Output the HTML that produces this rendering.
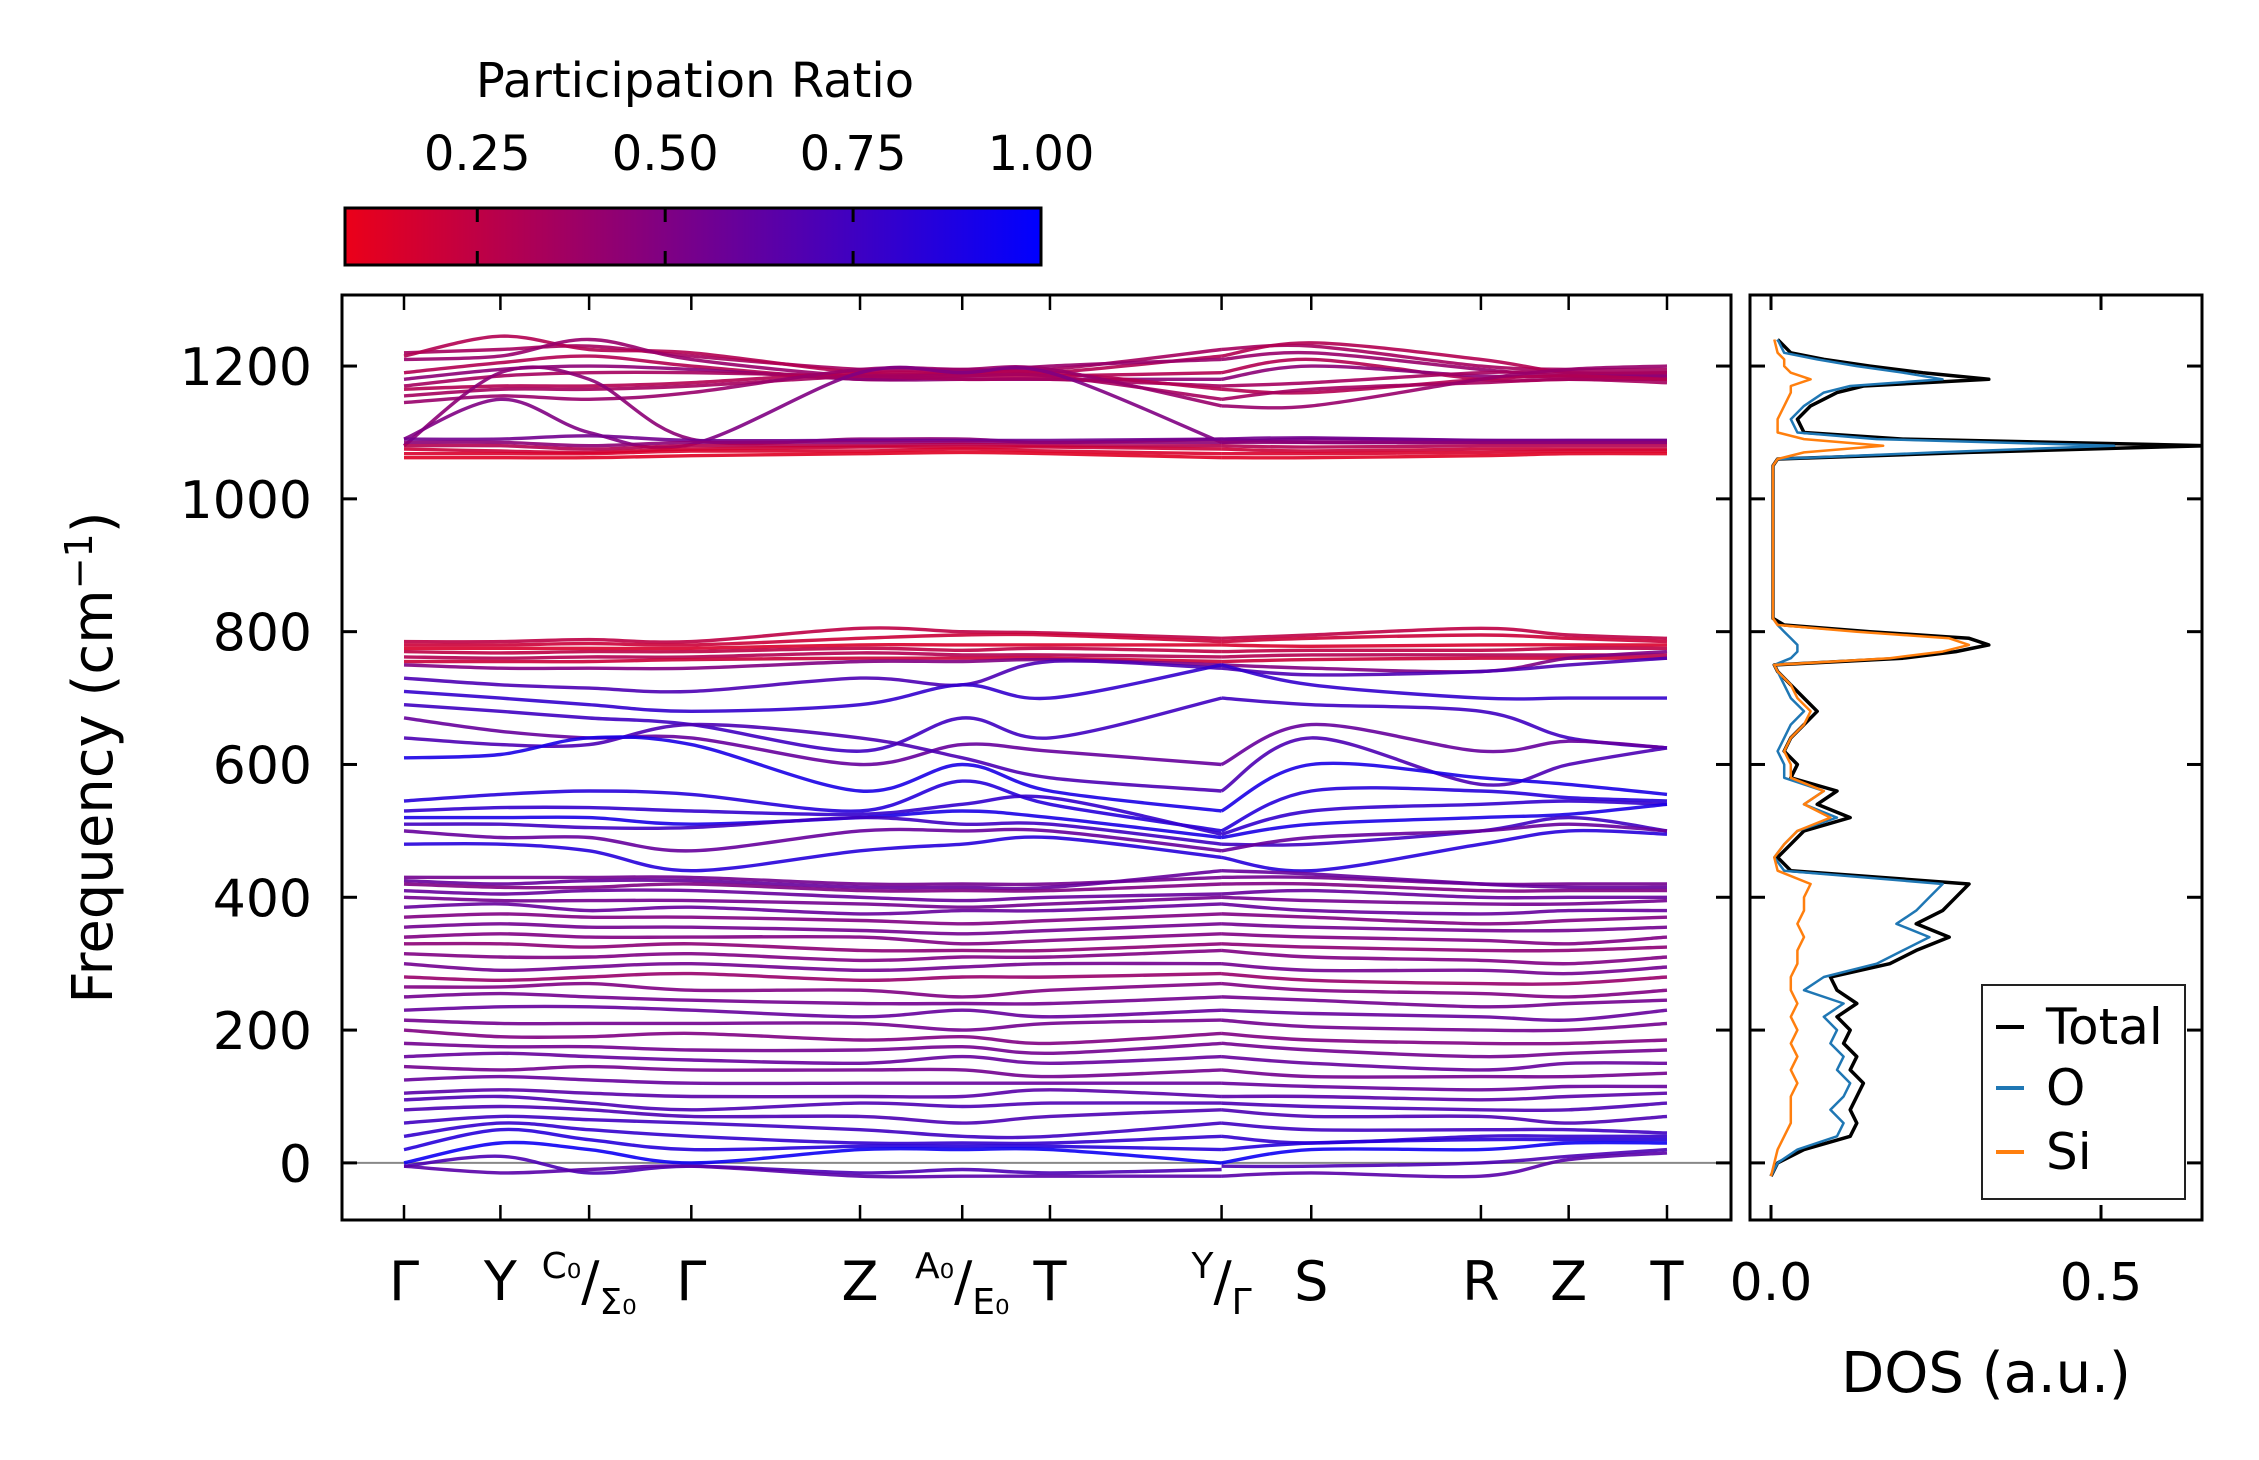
<!DOCTYPE html>
<html><head><meta charset="utf-8"><style>
html,body{margin:0;padding:0;background:#fff;}
svg text{font-family:"DejaVu Sans","Liberation Sans",sans-serif;fill:#000;}
</style></head><body>
<svg id="chart" width="2259" height="1455" viewBox="0 0 2259 1455" xmlns="http://www.w3.org/2000/svg">
<defs>
<linearGradient id="cmap" x1="0" x2="1" y1="0" y2="0">
<stop offset="0" stop-color="rgb(235,0,25)"/>
<stop offset="0.5" stop-color="rgb(118,0,140)"/>
<stop offset="1" stop-color="rgb(0,0,255)"/>
</linearGradient>
<clipPath id="mainClip"><rect x="342" y="295" width="1389" height="925"/></clipPath>
<clipPath id="dosClip"><rect x="1750" y="295" width="452" height="925"/></clipPath>
</defs>
<g id="colorbar"></g>
<g id="main"></g>
<g id="dos"></g>
</svg>
<script>
const kLabels = ["Γ","Y","C0/Σ0","Γ","Z","A0/E0","T","Y/Γ","S","R","Z","T"];
const kPos = [0,1,1.92,2.98,4.73,5.79,6.7,8.48,9.41,11.17,12.08,13.1];
const freqTicks = [0,200,400,600,800,1000,1200];
const cbarTicks = [0.25,0.5,0.75,1.0];
const dosTicks = [0.0,0.5];
const bands = [
[1220,1225,1230,1215,1195,1195,1195,1225, 1225,1230,1200,1195,1195],
[1215,1245,1225,1220,1190,1190,1190,1215, 1215,1235,1210,1190,1190],
[1210,1215,1240,1210,1185,1190,1200,1210, 1210,1220,1195,1185,1185],
[1190,1205,1215,1200,1180,1185,1185,1190, 1190,1210,1180,1180,1180],
[1180,1195,1200,1195,1180,1180,1180,1180, 1180,1200,1185,1185,1185],
[1170,1185,1190,1190,1185,1180,1180,1170, 1170,1175,1190,1190,1190],
[1165,1170,1170,1175,1190,1190,1190,1165, 1165,1160,1180,1185,1180],
[1155,1165,1165,1170,1185,1185,1185,1150, 1150,1165,1175,1180,1175],
[1145,1155,1150,1160,1195,1195,1195,1140, 1140,1140,1180,1195,1200],
[1080,1190,1180,1090,1090,1090,1085,1090, 1090,1085,1085,1085,1085],
[1090,1150,1100,1082,1190,1190,1190,1085, 1085,1090,1088,1088,1088],
[1090,1090,1095,1088,1088,1088,1088,1090, 1090,1092,1088,1088,1088],
[1085,1085,1080,1085,1085,1085,1085,1085, 1085,1085,1085,1085,1085],
[1080,1080,1075,1080,1080,1082,1080,1080, 1080,1078,1080,1080,1080],
[1075,1072,1070,1075,1078,1078,1078,1075, 1075,1072,1075,1075,1075],
[1068,1068,1068,1072,1072,1075,1072,1068, 1068,1068,1070,1072,1072],
[1062,1062,1062,1065,1068,1070,1068,1062, 1062,1062,1065,1068,1068],
[785,785,788,785,805,800,798,790, 790,795,805,795,790],
[780,780,782,780,790,795,795,785, 785,790,795,790,785],
[775,775,775,775,780,780,780,780, 780,778,780,780,780],
[770,768,770,770,775,772,775,770, 770,772,772,775,775],
[762,760,762,762,768,765,765,762, 762,765,765,765,765],
[755,755,755,758,760,760,760,755, 755,758,760,760,760],
[750,745,745,745,755,755,758,750, 750,745,740,760,770],
[730,720,715,710,730,720,755,745, 745,735,740,750,760],
[710,700,690,680,690,720,700,750, 750,720,700,700,700],
[690,680,670,660,620,670,640,700, 700,690,680,640,625],
[670,650,640,640,600,630,620,600, 600,660,620,635,625],
[640,630,630,660,640,610,580,560, 560,640,570,600,625],
[610,615,640,630,560,600,560,530, 530,600,580,570,555],
[545,555,560,555,530,575,540,500, 500,560,560,550,545],
[530,535,535,530,525,540,550,495, 495,530,540,545,540],
[520,520,520,510,520,530,520,490, 490,510,520,525,540],
[510,510,505,505,520,510,510,480, 480,480,500,520,500],
[500,490,490,470,500,500,500,470, 470,490,500,510,500],
[480,480,470,440,470,480,490,460, 460,440,480,500,495],
[430,430,430,430,420,420,420,430, 430,430,420,420,420],
[425,420,425,425,415,415,415,440, 440,435,420,415,415],
[420,415,415,420,410,410,410,420, 420,420,410,410,410],
[410,405,410,410,400,395,400,405, 405,410,400,400,400],
[400,395,395,395,390,385,390,400, 400,395,390,390,395],
[385,390,380,385,375,380,380,390, 390,380,375,380,380],
[370,375,370,370,365,360,365,375, 375,370,360,365,370],
[355,360,355,355,350,345,350,360, 360,355,350,350,355],
[340,345,340,340,340,330,335,345, 345,340,335,330,340],
[330,330,325,330,320,320,320,330, 330,325,320,320,325],
[315,310,310,315,305,310,310,320, 320,310,305,300,310],
[300,290,295,300,290,295,300,300, 300,290,290,285,295],
[280,275,280,285,275,280,280,285, 285,275,270,270,280],
[265,265,270,260,260,250,260,270, 270,260,255,250,260],
[250,255,250,245,240,240,240,250, 250,245,235,240,245],
[230,235,235,230,220,230,220,230, 230,225,220,215,230],
[215,210,210,210,210,200,210,215, 215,205,200,200,210],
[200,190,190,195,185,190,180,195, 195,185,180,180,185],
[180,175,175,170,170,175,165,180, 180,170,160,165,170],
[160,165,160,155,150,160,150,160, 160,150,140,150,150],
[145,140,145,140,140,140,130,140, 140,130,130,130,135],
[125,130,125,120,120,120,120,120, 120,115,110,115,115],
[105,110,105,100,100,100,110,100, 100,100,95,100,105],
[95,100,90,80,90,85,90,90, 90,85,80,80,90],
[80,85,80,70,70,60,70,80, 80,70,70,60,70],
[60,70,65,60,50,40,40,60, 60,50,50,50,45],
[40,60,50,40,30,30,30,40, 40,30,40,40,40],
[20,50,35,20,25,25,25,20, 20,30,35,35,35],
[0,30,20,0,20,20,20,0, 0,20,20,30,30],
[-5,10,-15,-5,-15,-10,-15,-10, -5,-5,0,10,20],
[-5,-15,-10,-5,-20,-20,-20,-20, -20,-15,-20,5,15]
];
const bandPR = [.35,.3,.4,.3,.45,.35,.3,.35,.4,.45,.5,.55,.45,.3,.2,.15,.12,
.25,.2,.15,.25,.3,.2,
.5,.7,.8,.75,.6,.7,.9,.85,.8,.9,.75,.6,.85,
.55,.6,.5,.6,.55,.6,.5,.55,.5,.45,.5,.55,.4,.5,.55,.6,.55,.5,.55,.6,.55,.6,.65,.7,.7,.75,.8,.85,.95,.7,.65];
const dosFreq  = [-20,0,20,40,60,80,100,120,140,160,180,200,220,240,260,280,300,320,340,360,380,400,420,440,460,480,500,520,540,560,580,600,620,640,660,680,700,720,740,750,760,770,780,790,800,810,820,900,1000,1050,1060,1070,1080,1090,1100,1120,1140,1160,1170,1180,1190,1200,1210,1220,1240];
const dosTotal = [0,0.01,0.05,0.12,0.13,0.12,0.13,0.14,0.12,0.13,0.11,0.12,0.10,0.13,0.10,0.09,0.18,0.22,0.27,0.22,0.26,0.28,0.30,0.03,0.01,0.03,0.05,0.12,0.07,0.10,0.03,0.04,0.02,0.03,0.05,0.07,0.05,0.03,0.01,0.005,0.20,0.28,0.33,0.30,0.15,0.02,0.003,0.003,0.003,0.003,0.01,0.30,0.66,0.20,0.05,0.04,0.06,0.10,0.14,0.33,0.23,0.15,0.08,0.03,0.01];
const dosO     = [0,0.01,0.04,0.10,0.11,0.09,0.11,0.12,0.10,0.11,0.09,0.10,0.08,0.11,0.05,0.08,0.16,0.20,0.24,0.19,0.22,0.24,0.26,0.02,0.005,0.02,0.04,0.10,0.05,0.08,0.02,0.02,0.01,0.02,0.03,0.05,0.03,0.02,0.01,0.005,0.03,0.04,0.04,0.03,0.02,0.01,0.003,0.003,0.003,0.003,0.01,0.25,0.52,0.16,0.04,0.03,0.05,0.08,0.12,0.26,0.20,0.13,0.07,0.02,0.01];
const dosSi    = [0,0.005,0.01,0.02,0.03,0.03,0.03,0.04,0.03,0.04,0.03,0.04,0.03,0.04,0.03,0.03,0.04,0.04,0.05,0.04,0.05,0.05,0.06,0.01,0.005,0.02,0.04,0.09,0.05,0.08,0.03,0.03,0.02,0.03,0.05,0.06,0.04,0.03,0.01,0.005,0.18,0.26,0.30,0.27,0.13,0.01,0.003,0.003,0.003,0.003,0.01,0.05,0.17,0.05,0.01,0.01,0.02,0.03,0.03,0.06,0.03,0.02,0.02,0.01,0.005];

const NS="http://www.w3.org/2000/svg";
const M={x0:342,x1:1731,y0:295,y1:1220,kx0:404,kx1:1667};
const D={x0:1750,x1:2202};
const fmin=-86,fmax=1307;
const yS=f=>M.y1-(f-fmin)/(fmax-fmin)*(M.y1-M.y0);
const kMax=kPos[kPos.length-1];
const xS=k=>M.kx0+k/kMax*(M.kx1-M.kx0);
const dS=v=>1771+v/0.5*330;
const CB={x0:345,x1:1041,y0:208,y1:265,vmin:0.074,vmax:1};
const cbS=v=>CB.x0+(v-CB.vmin)/(CB.vmax-CB.vmin)*(CB.x1-CB.x0);
function mk(tag,attrs,parent){const e=document.createElementNS(NS,tag);for(const k in attrs)e.setAttribute(k,attrs[k]);parent.appendChild(e);return e;}
function col(p){const t=Math.max(0,Math.min(1,(p-CB.vmin)/(CB.vmax-CB.vmin)));return `rgb(${Math.round(235*(1-t))},0,${Math.round(25+230*t)})`;}
function smooth(pts){let d=`M${pts[0][0]},${pts[0][1]}`;for(let i=0;i<pts.length-1;i++){const p0=pts[Math.max(0,i-1)],p1=pts[i],p2=pts[i+1],p3=pts[Math.min(pts.length-1,i+2)];
const c1x=p1[0]+(p2[0]-p0[0])/6,c1y=p1[1]+(p2[1]-p0[1])/6,c2x=p2[0]-(p3[0]-p1[0])/6,c2y=p2[1]-(p3[1]-p1[1])/6;
d+=` C${c1x.toFixed(1)},${c1y.toFixed(1)} ${c2x.toFixed(1)},${c2y.toFixed(1)} ${p2[0].toFixed(1)},${p2[1].toFixed(1)}`;}return d;}

// colorbar
const cb=document.getElementById('colorbar');
const cbt=mk('text',{x:695,y:97,'font-size':48,'text-anchor':'middle'},cb);
cbt.textContent='Participation Ratio';


const cbr=mk('rect',{x:CB.x0,y:CB.y0,width:CB.x1-CB.x0,height:CB.y1-CB.y0,fill:'url(#cmap)',stroke:'#000','stroke-width':3},cb);


cbarTicks.forEach(v=>{
 const x=cbS(v);
 if(v<1){
  mk('line',{x1:x,x2:x,y1:CB.y0,y2:CB.y0+14,stroke:'#000','stroke-width':3},cb);
  mk('line',{x1:x,x2:x,y1:CB.y1-14,y2:CB.y1,stroke:'#000','stroke-width':3},cb);
 }
 const t=mk('text',{x:x,y:170,'font-size':48,'text-anchor':'middle'},cb);
 t.textContent=v.toFixed(2);
 
 
});

// main plot
const mg=document.getElementById('main');
const bg=mk('g',{'clip-path':'url(#mainClip)'},mg);
mk('line',{x1:M.x0,x2:M.x1,y1:yS(0),y2:yS(0),stroke:'#888','stroke-width':2},bg);
bands.forEach((b,i)=>{
 const left=b.slice(0,8).map((f,j)=>[xS(kPos[j]),yS(f)]);
 const right=b.slice(8).map((f,j)=>[xS(kPos[j+7]),yS(f)]);
 [left,right].forEach(pts=>{
  const p=mk('path',{d:smooth(pts),fill:'none',stroke:col(bandPR[i]),'stroke-width':3.4,'stroke-opacity':0.9},bg);
  
  
 });
});
const ax=mk('rect',{x:M.x0,y:M.y0,width:M.x1-M.x0,height:M.y1-M.y0,fill:'none',stroke:'#000','stroke-width':3},mg);


freqTicks.forEach(f=>{
 const y=yS(f);
 mk('line',{x1:M.x0,x2:M.x0+15,y1:y,y2:y,stroke:'#000','stroke-width':3},mg);
 mk('line',{x1:M.x1-15,x2:M.x1,y1:y,y2:y,stroke:'#000','stroke-width':3},mg);
 const t=mk('text',{x:M.x0-30,y:y+19,'font-size':52,'text-anchor':'end'},mg);
 t.textContent=f;
 
 
});
kPos.forEach((k,i)=>{
 const x=xS(k);
 mk('line',{x1:x,x2:x,y1:M.y0,y2:M.y0+15,stroke:'#000','stroke-width':2.5},mg);
 mk('line',{x1:x,x2:x,y1:M.y1-15,y2:M.y1,stroke:'#000','stroke-width':2.5},mg);
 const lab=kLabels[i];
 const t=mk('text',{x:x,y:1300,'font-size':54,'text-anchor':'middle'},mg);
 
 
 if(lab.includes('/')){
  const parts=lab.split('/');
  const t1=mk('tspan',{'font-size':36,dy:-22},t);t1.textContent=parts[0].replace('0','₀');
  const t2=mk('tspan',{'font-size':54,dy:22},t);t2.textContent='/';
  const t3=mk('tspan',{'font-size':36,dy:14},t);t3.textContent=parts[1].replace('0','₀');
 } else t.textContent=lab;
});
const yl=mk('text',{x:0,y:0,'font-size':56,'text-anchor':'middle',transform:`translate(112,${(M.y0+M.y1)/2}) rotate(-90)`},mg);


yl.appendChild(document.createTextNode('Frequency (cm'));
const ys=mk('tspan',{'font-size':38,dy:-20},yl);ys.textContent='−1';
const ye=mk('tspan',{'font-size':56,dy:20},yl);ye.textContent=')';

// DOS
const dg=document.getElementById('dos');
const dc=mk('g',{'clip-path':'url(#dosClip)'},dg);
[[dosTotal,'#000',3.5,'dos-total-line'],[dosO,'#1f77b4',2.5,'dos-o-line'],[dosSi,'#ff7f0e',2.5,'dos-si-line']].forEach(([arr,c,w,n])=>{
 const d=arr.map((v,i)=>(i?'L':'M')+dS(v).toFixed(1)+','+yS(dosFreq[i]).toFixed(1)).join(' ');
 const p=mk('path',{d:d,fill:'none',stroke:c,'stroke-width':w,'stroke-linejoin':'round'},dc);
 
 
});
const dax=mk('rect',{x:D.x0,y:M.y0,width:D.x1-D.x0,height:M.y1-M.y0,fill:'none',stroke:'#000','stroke-width':3},dg);


freqTicks.forEach(f=>{
 const y=yS(f);
 mk('line',{x1:D.x0,x2:D.x0+15,y1:y,y2:y,stroke:'#000','stroke-width':3},dg);
 mk('line',{x1:D.x1-15,x2:D.x1,y1:y,y2:y,stroke:'#000','stroke-width':3},dg);
});
dosTicks.forEach(v=>{
 const x=dS(v);
 mk('line',{x1:x,x2:x,y1:M.y0,y2:M.y0+15,stroke:'#000','stroke-width':3},dg);
 mk('line',{x1:x,x2:x,y1:M.y1-15,y2:M.y1,stroke:'#000','stroke-width':3},dg);
 const t=mk('text',{x:x,y:1300,'font-size':52,'text-anchor':'middle'},dg);
 t.textContent=v.toFixed(1);
 
 
});
const dl=mk('text',{x:1986,y:1392,'font-size':56,'text-anchor':'middle'},dg);
dl.textContent='DOS (a.u.)';


const lg=mk('g',{},dg);


mk('rect',{x:1982,y:985,width:203,height:214,fill:'#fff',stroke:'#222','stroke-width':2},lg);
[['Total','#000',1027],['O','#1f77b4',1088],['Si','#ff7f0e',1152]].forEach(([n,c,y])=>{
 mk('line',{x1:1996,x2:2024,y1:y,y2:y,stroke:c,'stroke-width':4},lg);
 const t=mk('text',{x:2046,y:y+17,'font-size':50},lg);
 t.textContent=n;
 
 
});
</script>
</body></html>
